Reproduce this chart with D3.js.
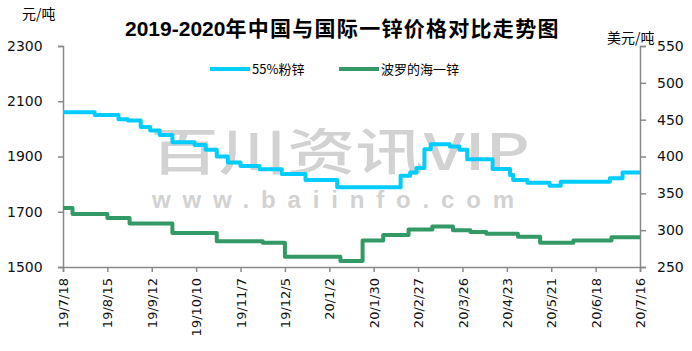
<!DOCTYPE html>
<html><head><meta charset="utf-8">
<script src="https://cdn.jsdelivr.net/npm/d3@7"></script>
<style>
html,body{margin:0;padding:0;background:#fff;}
svg{display:block;}
text{font-family:"DejaVu Sans",Verdana,sans-serif;}
</style></head>
<body><svg id="c" width="692" height="351"></svg>
<script>
const title = "2019-2020年中国与国际一锌价格对比走势图";
const seriesNames = ["55%粉锌", "波罗的海一锌"];
const xLabels = ["19/7/18","19/8/15","19/9/12","19/10/10","19/11/7","19/12/5","20/1/2","20/1/30","20/2/27","20/3/26","20/4/23","20/5/21","20/6/18","20/7/16"];
const leftTicks = [1500,1700,1900,2100,2300];
const rightTicks = [250,300,350,400,450,500,550];

// 55%粉锌 (元/吨), step change dates and values
const zincPowderDates = ["2019-07-18","2019-08-07","2019-08-22","2019-08-28","2019-09-05","2019-09-11","2019-09-17","2019-09-25","2019-10-09","2019-10-16","2019-10-23","2019-10-30","2019-11-07","2019-11-19","2019-12-03","2019-12-18","2020-01-07","2020-02-16","2020-02-22","2020-02-26","2020-03-02","2020-03-06","2020-03-18","2020-03-24","2020-03-29","2020-04-14","2020-04-25","2020-04-27","2020-05-06","2020-05-20","2020-05-27","2020-06-27","2020-07-05","2020-07-16"];
const zincPowderValues = [2060,2050,2035,2030,2007,1994,1978,1952,1942,1924,1900,1878,1866,1854,1837,1815,1789,1830,1842,1858,1926,1944,1936,1924,1890,1855,1833,1815,1805,1794,1809,1821,1842,1842];

// 波罗的海一锌 (美元/吨)
const balticDates = ["2019-07-18","2019-07-24","2019-08-15","2019-08-29","2019-09-25","2019-10-23","2019-11-21","2019-12-05","2020-01-09","2020-01-23","2020-02-05","2020-02-21","2020-03-07","2020-03-20","2020-03-31","2020-04-10","2020-04-30","2020-05-14","2020-06-04","2020-06-28","2020-07-16"];
const balticValues = [330,322,316.5,309,296,285,283,264,258,286,293.5,301,305,300,297.5,295,291,283,286,290.5,290.5];

const svg = d3.select("#c");
const L = 63, R = 640, T = 46, B = 267;
const parseISO = d3.timeParse("%Y-%m-%d");
const parseLbl = s => { const [y,m,d] = s.split("/"); return new Date(2000+ +y, +m-1, +d); };
const tickDates = xLabels.map(parseLbl);

const x = d3.scaleTime().domain([tickDates[0], tickDates[tickDates.length-1]]).range([L, R]);
const yL = d3.scaleLinear().domain([1500,2300]).range([B, T]);
const yR = d3.scaleLinear().domain([250,550]).range([B, T]);

// watermark
svg.append("text").attr("x",150).attr("y",170).attr("textLength",380).attr("lengthAdjust","spacingAndGlyphs")
  .attr("fill","#d2d2d2").style("font-family","'Noto Sans CJK SC',sans-serif").style("font-size","50px").style("font-weight","500")
  .text("百川资讯VIP");
svg.append("text").attr("x",152).attr("y",208).attr("textLength",362).attr("lengthAdjust","spacing")
  .attr("fill","#d2d2d2").style("font-family","'Liberation Sans',Arial,sans-serif").style("font-size","24px").style("font-weight","bold")
  .text("www.baiinfo.com");

// title
const tt = svg.append("text").attr("x",125).attr("y",36).style("font-weight","bold").attr("fill","#000");
tt.append("tspan").style("font-family","'Liberation Sans',Arial,sans-serif").style("font-size","21px").text(title.slice(0,9));
tt.append("tspan").style("font-family","'Noto Sans CJK SC',sans-serif").style("font-size","21px").attr("textLength",333).attr("lengthAdjust","spacing").text(title.slice(9));

// unit labels
svg.append("text").attr("x",22).attr("y",19).style("font-family","'Noto Sans CJK SC',sans-serif").style("font-size","14px").text("元/吨");
svg.append("text").attr("x",607).attr("y",43).style("font-family","'Noto Sans CJK SC',sans-serif").style("font-size","14px").text("美元/吨");

// axes
const axisColor = "#888";
const gL = svg.append("g").attr("transform",`translate(${L},0)`).call(d3.axisLeft(yL).tickValues(leftTicks).tickSize(5).tickPadding(16).tickFormat(d3.format("d")));
const gR = svg.append("g").attr("transform",`translate(${R},0)`).call(d3.axisRight(yR).tickValues(rightTicks).tickSize(6).tickPadding(11).tickFormat(d3.format("d")));
const gX = svg.append("g").attr("transform",`translate(0,${B})`).call(d3.axisBottom(x).tickValues(tickDates).tickSize(5).tickFormat((d,i)=>xLabels[i]));
[gL,gR,gX].forEach(g=>{
  g.select(".domain").attr("stroke",axisColor).attr("stroke-width",1.5);
  g.selectAll(".tick line").attr("stroke",axisColor).attr("stroke-width",1.5);
  g.selectAll("text").attr("fill","#111").style("font-size","14px").style("font-family","'DejaVu Sans',Verdana,sans-serif");
});
gL.selectAll(".tick text").attr("text-anchor","start").attr("x",-56);
gX.selectAll(".tick text").attr("transform","rotate(-90)").attr("text-anchor","end")
  .attr("x",-11).attr("y",0).attr("dy","0.35em").style("font-size","13px");

// lines
const lineL = d3.line().x(d=>x(d[0])).y(d=>yL(d[1])).curve(d3.curveStepAfter);
const lineR = d3.line().x(d=>x(d[0])).y(d=>yR(d[1])).curve(d3.curveStepAfter);
svg.append("path").datum(zincPowderDates.map((d,i)=>[parseISO(d),zincPowderValues[i]]))
  .attr("d",lineL).attr("fill","none").attr("stroke","#00ccff").attr("stroke-width",4).attr("stroke-linejoin","round");
svg.append("path").datum(balticDates.map((d,i)=>[parseISO(d),balticValues[i]]))
  .attr("d",lineR).attr("fill","none").attr("stroke","#339966").attr("stroke-width",4).attr("stroke-linejoin","round");

// legend
const leg = [{c:"#00ccff",x:210,name:seriesNames[0]},{c:"#339966",x:339,name:seriesNames[1]}];
leg.forEach(l=>{
  svg.append("line").attr("x1",l.x).attr("x2",l.x+40).attr("y1",69).attr("y2",69).attr("stroke",l.c).attr("stroke-width",4);
  svg.append("text").attr("x",l.x+42).attr("y",74).style("font-family","'Noto Sans CJK SC',sans-serif").style("font-size","13px").attr("fill","#000").text(l.name);
});
</script></body></html>
